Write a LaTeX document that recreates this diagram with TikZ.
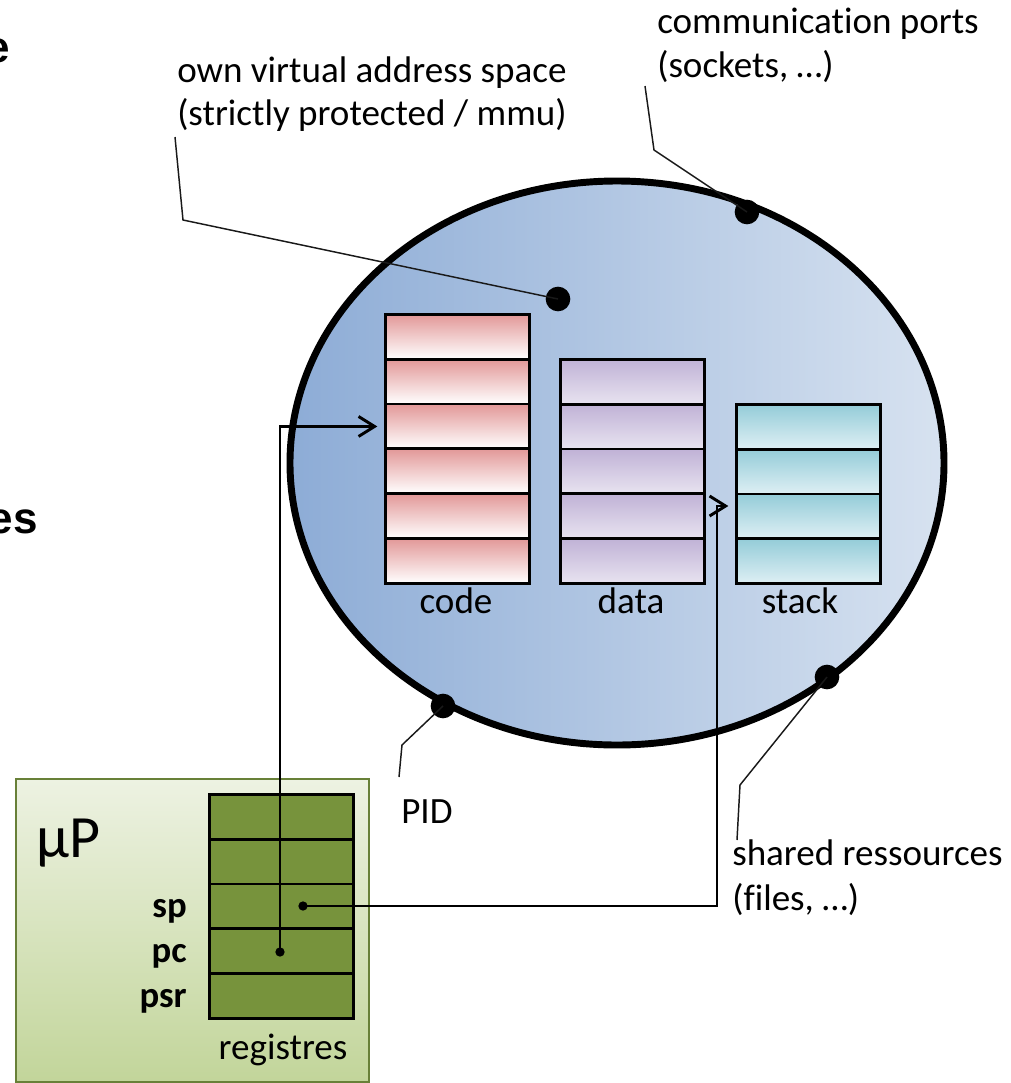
\documentclass[tikz,border=0pt]{standalone}
\usepackage{fontspec}
\setmainfont{Carlito}[Ligatures=NoCommon]
\newfontfamily\arialfont{Liberation Sans}
\usetikzlibrary{arrows.meta}
\definecolor{ellL}{RGB}{141,172,214}
\definecolor{ellR}{RGB}{215,226,240}
\definecolor{codeT}{RGB}{226,152,152}
\definecolor{dataT}{RGB}{192,178,214}
\definecolor{dataB}{RGB}{232,227,240}
\definecolor{stackT}{RGB}{148,204,216}
\definecolor{stackB}{RGB}{222,239,244}
\definecolor{upT}{RGB}{237,242,226}
\definecolor{upB}{RGB}{194,213,154}
\definecolor{upEdge}{RGB}{104,128,56}
\definecolor{regFill}{RGB}{119,147,60}
\tikzset{
  lbl/.style={font=\fontsize{27.8}{32}\selectfont, inner sep=0pt, text=black},
  boldlbl/.style={lbl, font=\fontsize{27.5}{32}\selectfont\bfseries},
  cellbase/.style={draw=black, line width=2.1pt, inner sep=0pt, minimum width=108pt, minimum height=33.6pt, anchor=north west},
  codecell/.style={cellbase, top color=codeT, bottom color=white},
  datacell/.style={cellbase, shading angle=30, top color=dataT, bottom color=dataB},
  stackcell/.style={cellbase, shading angle=-20, top color=stackT, bottom color=stackB},
  regcell/.style={cellbase, fill=regFill},
  bigdot/.style={circle, fill=black, inner sep=0pt, minimum size=18.5pt},
  smalldot/.style={circle, fill=black, inner sep=0pt, minimum size=7pt},
  callout/.style={draw=black!90, line width=1.1pt},
  conn/.style={draw=black, line width=2.2pt, -{Straight Barb[length=12pt,width=15pt,line width=2.2pt]}, shorten >=5pt},
}
\begin{document}
\begin{tikzpicture}[x=0.75pt,y=-0.75pt]
\useasboundingbox (0,0) rectangle (1011,1083);
\clip (0,0) rectangle (1011,1083);

% clipped bold words at the left edge
\node[inner sep=0pt, anchor=base east, font=\arialfont\bfseries\fontsize{33}{36}\selectfont] (lefte) at (10,62) {e};
\node[inner sep=0pt, anchor=base east, font=\arialfont\bfseries\fontsize{33}{36}\selectfont] (leftes) at (38,533) {es};

% address space ellipse
\path[left color=ellL, right color=ellR] (617,463) ellipse [x radius=327, y radius=282];
\draw[line width=5.2pt] (617,463) ellipse [x radius=327, y radius=282];

% code / data / stack
\foreach \i in {1,...,6} \node[codecell] (code\i) at (384,{313+(\i-1)*44.83}) {};
\foreach \i in {1,...,5} \node[datacell] (data\i) at (559,{358+(\i-1)*44.8}) {};
\foreach \i in {1,...,4} \node[stackcell] (stack\i) at (735,{403+(\i-1)*44.75}) {};
\node[lbl, anchor=base] (codelbl) at (456,613) {code};
\node[lbl, anchor=base] (datalbl) at (631,613) {data};
\node[lbl, anchor=base] (stacklbl) at (800,613) {stack};

% callout dots
\node[bigdot] (dvas) at (558,299) {};
\node[bigdot] (dcomm) at (747,212) {};
\node[bigdot] (dpid) at (443,706) {};
\node[bigdot] (dshared) at (827,677) {};

% callout texts
\node[lbl, anchor=base west] (vas1) at (177,82) {own virtual address space};
\node[lbl, anchor=base west] (vas2) at (177,125) {(strictly protected / mmu)};
\node[lbl, anchor=base west] (comm1) at (657,33) {communication ports};
\node[lbl, anchor=base west] (comm2) at (657,77) {(sockets, …)};
\node[lbl, anchor=base west] (pid) at (401,823) {PID};
\node[lbl, anchor=base west] (sh1) at (732,865) {shared ressources};
\node[lbl, anchor=base west] (sh2) at (732,910) {(files, …)};

% callout lines
\coordinate (vasA) at (175,137);
\coordinate (vasB) at (183,220);
\draw[callout] (vasA) -- (vasB) -- (dvas.center);
\coordinate (commA) at (645,86);
\coordinate (commB) at (654,150);
\draw[callout] (commA) -- (commB) -- (dcomm.center);
\coordinate (pidA) at (399,777);
\coordinate (pidB) at (402,745);
\draw[callout] (pidA) -- (pidB) -- (dpid.center);
\coordinate (shA) at (737,840);
\coordinate (shB) at (740,785);
\draw[callout] (shA) -- (shB) -- (dshared.center);

% microprocessor
\node[draw=upEdge, line width=1.6pt, top color=upT, bottom color=upB, inner sep=0pt, minimum width=264.75pt, minimum height=227.25pt, anchor=north west] (up) at (15,778) {};
\node[inner sep=0pt, anchor=base west, font=\fontsize{45}{48}\selectfont] (uplbl) at (36,857) {µP};
\foreach \i in {1,...,5} \node[regcell] (reg\i) at (208,{793+(\i-1)*44.8}) {};
\node[boldlbl, anchor=base east] (splbl) at (187,917) {sp};
\node[boldlbl, anchor=base east] (pclbl) at (187,962) {pc};
\node[boldlbl, anchor=base east] (psrlbl) at (187,1007) {psr};
\node[lbl, anchor=base] (reglbl) at (283,1059) {registres};

% pointers
\node[smalldot] (pcdot) at (280,952) {};
\node[smalldot] (spdot) at (303,906) {};
\draw[conn] (pcdot.center) |- (code3.west);
\coordinate (spturn) at (717,506);
\draw[conn] (spdot.center) -| (spturn) -- (stack3.west |- spturn);
\end{tikzpicture}
\end{document}
